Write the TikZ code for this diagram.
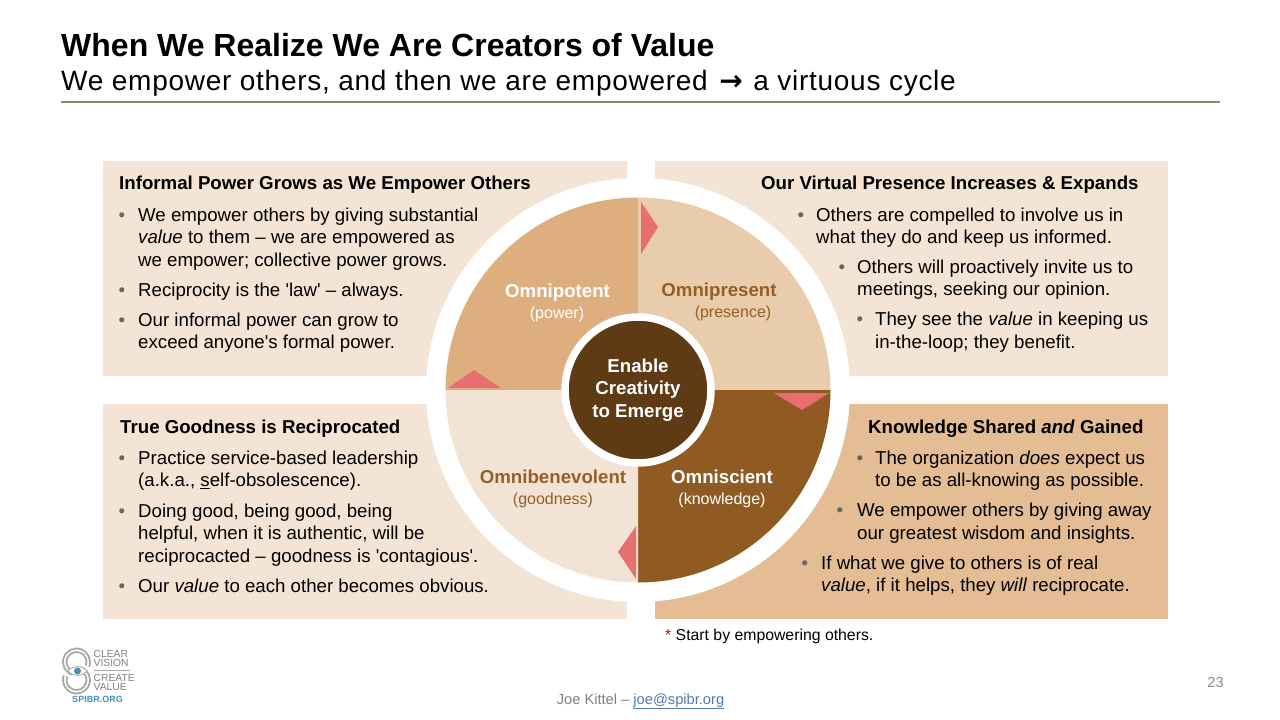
\documentclass[tikz,border=0pt]{standalone}
\usepackage{fontspec}
\setmainfont{Liberation Sans}
\newfontfamily\subfont[LetterSpace=2.6]{Liberation Sans}
\newfontfamily\arrowfont{DejaVu Sans}
\definecolor{panelA}{HTML}{F4E4D5}
\definecolor{panelB}{HTML}{E4BD94}
\definecolor{pieA}{HTML}{DFAE7E}
\definecolor{pieB}{HTML}{E9CCAB}
\definecolor{pieC}{HTML}{F3E3D4}
\definecolor{pieD}{HTML}{8F5B22}
\definecolor{hub}{HTML}{5E3A15}
\definecolor{tick}{HTML}{E86F6F}
\definecolor{rulec}{HTML}{8E8A68}
\definecolor{labelc}{HTML}{955F26}
\definecolor{linkc}{HTML}{5578B4}
\definecolor{logoc}{HTML}{A9A9A9}
\definecolor{logob}{HTML}{4A8FB3}
\begin{document}
\begin{tikzpicture}[
		x=1pt, y=-1pt,
		h/.style = {anchor=base west, inner sep=0, font=\fontsize{18.67}{22.5}\selectfont\bfseries},
		t/.style = {anchor=base west, inner sep=0, align=left, font=\fontsize{18.67}{22.5}\selectfont},
		b/.style = {anchor=base, inner sep=0, text=black!60, font=\fontsize{18.67}{22.5}\selectfont},
		o/.style = {anchor=base, inner sep=0, font=\fontsize{18.67}{22.5}\selectfont\bfseries},
		s/.style = {anchor=base, inner sep=0, font=\fontsize{16}{20}\selectfont},
		l/.style = {anchor=base west, inner sep=0, text=black!50, font=\fontsize{10.3}{11}\selectfont},
		m/.style = {fill=tick},
		g/.style = {draw=logoc, line width=1.8}
		]
		\useasboundingbox (0,0) rectangle (1280,720);
		\fill[white] (0,0) rectangle (1280,720);

		%Title
		\node[anchor=base west, inner sep=0, font=\fontsize{32}{36}\selectfont\bfseries] (title) at (61,56) {When We Realize We Are Creators of Value};
		\node[anchor=base west, inner sep=0, font=\fontsize{28}{32}\subfont] (sub) at (61,90.5) {We empower others, and then we are empowered\hspace{3pt} {\arrowfont\bfseries →}\hspace{2pt} a virtuous cycle};
		\draw[rulec, line width=1.3] (61,102) -- (1220,102);

		%Panels
		\fill[panelA] (103,161) rectangle (627,376);
		\fill[panelA] (655,161) rectangle (1168,376);
		\fill[panelA] (103,404) rectangle (627,619);
		\fill[panelB] (655,404) rectangle (1168,619);

		%Wheel
		\coordinate (c) at (638,390);
		\fill[white] (c) circle (212);
		\fill[pieA] (c) -- +(180:192.5) arc[start angle=180, end angle=270, radius=192.5] -- cycle;
		\fill[pieB] (c) -- +(270:192.5) arc[start angle=270, end angle=360, radius=192.5] -- cycle;
		\fill[pieD] (c) -- +(0:192.5) arc[start angle=0, end angle=90, radius=192.5] -- cycle;
		\fill[pieC] (c) -- +(90:192.5) arc[start angle=90, end angle=180, radius=192.5] -- cycle;

		%Markers
		\fill[m] (641,202) -- (658,227) -- (641,254) -- cycle;
		\fill[m] (448,388) -- (474,370) -- (501,388) -- cycle;
		\fill[m] (774,393) -- (802,410) -- (829,393) -- cycle;
		\fill[m] (636,526) -- (618,552) -- (636,579) -- cycle;

		%Hub
		\node[circle, fill=hub, draw=white, line width=7.5, minimum size=146, inner sep=0, align=center, text=white, font=\fontsize{18.67}{22.5}\selectfont\bfseries] (hubc) at (c) {Enable\\Creativity\\to Emerge};

		%Wheel labels
		\node[o, text=white]	(pa)	at	(557.5,297)	{Omnipotent};
		\node[s, text=white]	(pa2)	at	(557,318)	{(power)};
		\node[o, text=labelc]	(pb)	at	(719,296.5)	{Omnipresent};
		\node[s, text=labelc]	(pb2)	at	(733,317.5)	{(presence)};
		\node[o, text=labelc]	(pc)	at	(553,483.5)	{Omnibenevolent};
		\node[s, text=labelc]	(pc2)	at	(553,504)	{(goodness)};
		\node[o, text=white]	(pd)	at	(722,483.5)	{Omniscient};
		\node[s, text=white]	(pd2)	at	(722,504)	{(knowledge)};

		%Top left
		\node[h]	(h1)	at	(119,189)	{Informal Power Grows as We Empower Others};
		\node[b]	(b11)	at	(122,221)	{•};
		\node[t]	(t11)	at	(138,266)	{We empower others by giving substantial\\\textit{value} to them – we are empowered as\\we empower; collective power grows.};
		\node[b]	(b12)	at	(122,296)	{•};
		\node[t]	(t12)	at	(138,296)	{Reciprocity is the \textquotesingle law\textquotesingle{} – always.};
		\node[b]	(b13)	at	(122,326)	{•};
		\node[t]	(t13)	at	(138,348.5)	{Our informal power can grow to\\exceed anyone\textquotesingle s formal power.};

		%Top right
		\node[h]	(h2)	at	(761,189)	{Our Virtual Presence Increases \& Expands};
		\node[b]	(b21)	at	(801,221)	{•};
		\node[t]	(t21)	at	(816,243.5)	{Others are compelled to involve us in\\what they do and keep us informed.};
		\node[b]	(b22)	at	(842,273)	{•};
		\node[t]	(t22)	at	(857,295.5)	{Others will proactively invite us to\\meetings, seeking our opinion.};
		\node[b]	(b23)	at	(860,325.5)	{•};
		\node[t]	(t23)	at	(875,348)	{They see the \textit{value} in keeping us\\in-the-loop; they benefit.};

		%Bottom left
		\node[h]	(h3)	at	(120,433)	{True Goodness is Reciprocated};
		\node[b]	(b31)	at	(122,464)	{•};
		\node[t]	(t31)	at	(138,486.5)	{Practice service-based leadership\\(a.k.a., \underline{s}elf-obsolescence).};
		\node[b]	(b32)	at	(122,517)	{•};
		\node[t]	(t32)	at	(138,562)	{Doing good, being good, being\\helpful, when it is authentic, will be\\reciprocacted – goodness is \textquotesingle contagious\textquotesingle.};
		\node[b]	(b33)	at	(122,592)	{•};
		\node[t]	(t33)	at	(138,592)	{Our \textit{value} to each other becomes obvious.};

		%Bottom right
		\node[h]	(h4)	at	(868,433)	{Knowledge Shared \textit{and} Gained};
		\node[b]	(b41)	at	(860,464)	{•};
		\node[t]	(t41)	at	(875,486.5)	{The organization \textit{does} expect us\\to be as all-knowing as possible.};
		\node[b]	(b42)	at	(840,516.5)	{•};
		\node[t]	(t42)	at	(857,539)	{We empower others by giving away\\our greatest wisdom and insights.};
		\node[b]	(b43)	at	(805,569)	{•};
		\node[t]	(t43)	at	(821,591.5)	{If what we give to others is of real\\\textit{value}, if it helps, they \textit{will} reciprocate.};

		%Footer
		\node[anchor=base west, inner sep=0, font=\fontsize{15.8}{18}\selectfont] (note) at (665,640) {\textcolor{red!85!black}{*} Start by empowering others.};
		\node[anchor=base, inner sep=0, text=black!50, font=\fontsize{14.67}{18}\selectfont] (foot) at (640.5,704) {Joe Kittel – \textcolor{linkc}{\underline{joe@spibr.org}}};
		\node[anchor=base east, inner sep=0, text=black!45, font=\fontsize{14.67}{18}\selectfont] (page) at (1224,687) {23};

		%Logo
		\draw[g] (76.5,662) +(20:13.5) arc[start angle=20, end angle=-250, radius=13.5];
		\draw[g] (76.5,662) +(20:10) arc[start angle=20, end angle=-250, radius=10];
		\draw[g] (76.5,680) +(200:13.5) arc[start angle=200, end angle=-70, radius=13.5];
		\draw[g] (76.5,680) +(200:10) arc[start angle=200, end angle=-70, radius=10];
		\draw[logoc, line width=0.8, fill=white] (68,671) .. controls (73,665) and (82,665) .. (87,671) .. controls (82,677) and (73,677) .. (68,671) -- cycle;
		\fill[logob] (77.5,671) circle (3.5);
		\node[l]	(lg1)	at	(93.5,657)	{CLEAR};
		\node[l]	(lg2)	at	(93.5,666.5)	{VISION};
		\draw[logoc, line width=0.4] (93.5,670) -- (130,670);
		\node[l]	(lg3)	at	(93.5,681.7)	{CREATE};
		\node[l]	(lg4)	at	(93.5,690.7)	{VALUE};
		\node[anchor=base, inner sep=0, text=logob, font=\fontsize{9}{9}\selectfont\bfseries] (lg5) at (97.5,702) {SPIBR.ORG};
	\end{tikzpicture}
\end{document}
